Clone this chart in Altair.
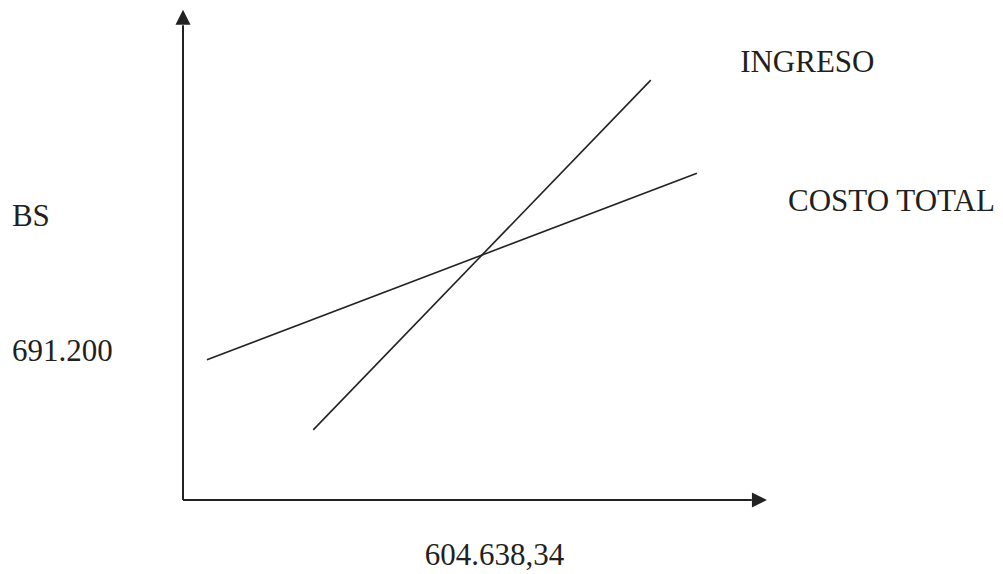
import altair as alt
import pandas as pd

# Schematic break-even diagram (abstract units 0-100 on both axes)
series = ["INGRESO", "INGRESO", "COSTO TOTAL", "COSTO TOTAL"]
line_x = [22.3, 80.1, 4.1, 88.0]
line_y = [14.3, 85.7, 28.6, 66.7]

label_text = ["INGRESO", "COSTO TOTAL", "BS", "691.200", "604.638,34"]
label_x = [95.4, 103.6, -29.3, -29.3, 41.4]
label_y = [87.4, 59.0, 56.0, 28.4, -13.3]

axis_end_x = [0, 97.4]
axis_end_y = [96.9, 0]
arrow_x = [0, 98.7]
arrow_y = [98.5, 0]
arrow_shape = ["M0,-1L1,1L-1,1Z", "M1,0L-1,-1L-1,1Z"]

lines_df = pd.DataFrame({"serie": series, "x": line_x, "y": line_y})
labels_df = pd.DataFrame({"t": label_text, "x": label_x, "y": label_y})
axes_df = pd.DataFrame({"x": [0, 0], "y": [0, 0], "x2": axis_end_x, "y2": axis_end_y})
arrows_df = pd.DataFrame({"x": arrow_x, "y": arrow_y, "shape": arrow_shape})

xs = alt.Scale(domain=[0, 100], nice=False, zero=False)
ys = alt.Scale(domain=[0, 100], nice=False, zero=False)

axes = alt.Chart(axes_df).mark_rule(color="#222222", strokeWidth=2).encode(
    x=alt.X("x:Q", scale=xs, axis=None),
    y=alt.Y("y:Q", scale=ys, axis=None),
    x2="x2:Q",
    y2="y2:Q",
)

arrows = alt.Chart(arrows_df).mark_point(filled=True, color="#222222", size=225, opacity=1).encode(
    x=alt.X("x:Q", scale=xs, axis=None),
    y=alt.Y("y:Q", scale=ys, axis=None),
    shape=alt.Shape("shape:N", scale=None),
)

lines = alt.Chart(lines_df).mark_line(color="#222222", strokeWidth=1.6).encode(
    x=alt.X("x:Q", scale=xs, axis=None),
    y=alt.Y("y:Q", scale=ys, axis=None),
    detail="serie:N",
    order="x:Q",
)

labels = alt.Chart(labels_df).mark_text(
    align="left", baseline="alphabetic", font="Liberation Serif", fontSize=31, color="#231f20"
).encode(
    x=alt.X("x:Q", scale=xs, axis=None),
    y=alt.Y("y:Q", scale=ys, axis=None),
    text="t:N",
)

chart = alt.layer(axes, arrows, lines, labels).properties(
    width=584,
    height=490,
    autosize=alt.AutoSizeParams(type="none"),
    padding={"left": 175, "top": 2, "right": 228, "bottom": 72},
    background="white",
).configure_view(stroke=None)

chart.save("out.html", embed_options={"renderer": "svg", "actions": False})
